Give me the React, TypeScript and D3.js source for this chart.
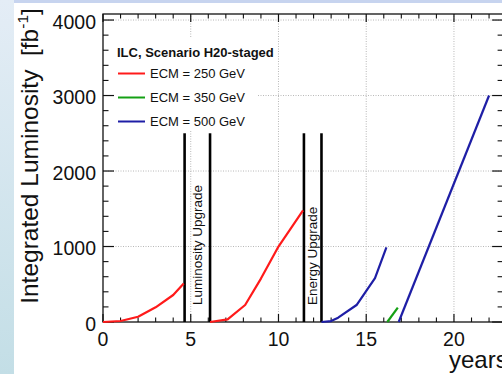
import React from 'react';
import * as d3 from 'd3';

// Integrated luminosity vs years, ILC H20-staged scenario
const red250a: [number, number][] = [[0, 0], [1, 13], [2, 70], [3, 195], [4, 358], [4.6, 510]];
const red250b: [number, number][] = [[6.1, 0], [7.1, 35], [8.1, 225], [9, 575], [10, 1000], [11.4, 1480]];
const blue500a: [number, number][] = [[12.45, 0], [13, 12], [13.4, 57], [14.45, 225], [15.5, 580], [16.15, 990]];
const green350: [number, number][] = [[16.2, 0], [16.8, 190]];
const blue500b: [number, number][] = [[16.85, 0], [22, 3000]];

const upgrades = [
  { label: 'Luminosity Upgrade', from: 4.65, to: 6.1 },
  { label: 'Energy Upgrade', from: 11.45, to: 12.45 },
];
const upgradeHeight = 2500;

const legendItems = [
  { label: 'ECM = 250 GeV', color: '#ff1a1a' },
  { label: 'ECM = 350 GeV', color: '#14a014' },
  { label: 'ECM = 500 GeV', color: '#1e1ea6' },
];

const xMajor = [0, 5, 10, 15, 20];
const yMajor = [0, 1000, 2000, 3000, 4000];

const W = 502;
const H = 374;
const FONT = '"Liberation Sans", Arial, Helvetica, sans-serif';

export default function App() {
  const x = d3.scaleLinear().domain([0, 22.8]).range([103, 503.1]);
  const y = d3.scaleLinear().domain([0, 4080]).range([322, 14]);
  const line = d3
    .line<[number, number]>()
    .x((d) => x(d[0]))
    .y((d) => y(d[1]));

  const xMinor = d3.range(0, 23, 1).filter((v) => v % 5 !== 0);
  const yMinor = d3.range(0, 4080, 200).filter((v) => v % 1000 !== 0);
  const [x0, x1] = x.range();
  const [y0, y1] = y.range();

  const series = [
    { d: red250a, c: legendItems[0].color },
    { d: red250b, c: legendItems[0].color },
    { d: blue500a, c: legendItems[2].color },
    { d: green350, c: legendItems[1].color },
    { d: blue500b, c: legendItems[2].color },
  ];

  return (
    <svg
      width={W}
      height={H}
      style={{ position: 'absolute', left: 0, top: 0, background: '#fff' }}
      fontFamily={FONT}
    >
      <defs>
        <linearGradient id="strip" x1="0" y1="0" x2="0" y2="1">
          <stop offset="0" stopColor="#e4edf6" />
          <stop offset="1" stopColor="#c3dee6" />
        </linearGradient>
      </defs>
      <rect x={0} y={0} width={14} height={H} fill="url(#strip)" />
      <rect x={14} y={0} width={W - 14} height={3} fill="#c7d4ef" />

      {/* grid */}
      {xMajor.filter((v) => v > 0).map((v) => (
        <line key={'gx' + v} x1={x(v)} x2={x(v)} y1={y0} y2={y1} stroke="#b8b8b8" strokeWidth={1} strokeDasharray="1 1.5" />
      ))}
      {yMajor.filter((v) => v > 0).map((v) => (
        <line key={'gy' + v} x1={x0} x2={x1} y1={y(v)} y2={y(v)} stroke="#b8b8b8" strokeWidth={1} strokeDasharray="1 1.5" />
      ))}

      {/* legend box (hides grid) */}
      <rect x={104} y={37} width={154} height={93} fill="#fff" />
      <text x={117} y={56.5} fontSize={13} fontWeight="bold" fill="#111">ILC, Scenario H20-staged</text>
      {legendItems.map((it, i) => {
        const ly = 73.5 + i * 24;
        return (
          <g key={it.label}>
            <line x1={118} x2={145} y1={ly} y2={ly} stroke={it.color} strokeWidth={2} />
            <text x={150} y={ly + 4.7} fontSize={13} fill="#111">{it.label}</text>
          </g>
        );
      })}

      {/* frame and ticks */}
      <rect x={x0} y={y1} width={x1 - x0} height={y0 - y1} fill="none" stroke="#111" strokeWidth={1.3} />
      {xMajor.map((v) => (
        <g key={'xt' + v} stroke="#111" strokeWidth={1.2}>
          <line x1={x(v)} x2={x(v)} y1={y0} y2={y0 - 8} />
          <line x1={x(v)} x2={x(v)} y1={y1} y2={y1 + 8} />
        </g>
      ))}
      {xMinor.map((v) => (
        <g key={'xm' + v} stroke="#111" strokeWidth={1.1}>
          <line x1={x(v)} x2={x(v)} y1={y0} y2={y0 - 4.5} />
          <line x1={x(v)} x2={x(v)} y1={y1} y2={y1 + 4.5} />
        </g>
      ))}
      {yMajor.map((v) => (
        <g key={'yt' + v} stroke="#111" strokeWidth={1.2}>
          <line x1={x0} x2={x0 + 11} y1={y(v)} y2={y(v)} />
          <line x1={x1} x2={x1 - 11} y1={y(v)} y2={y(v)} />
        </g>
      ))}
      {yMinor.map((v) => (
        <g key={'ym' + v} stroke="#111" strokeWidth={1.1}>
          <line x1={x0} x2={x0 + 5.5} y1={y(v)} y2={y(v)} />
          <line x1={x1} x2={x1 - 5.5} y1={y(v)} y2={y(v)} />
        </g>
      ))}

      {/* upgrade periods */}
      {upgrades.map((u) => {
        const cx = (x(u.from) + x(u.to)) / 2;
        return (
          <g key={u.label}>
            <line x1={x(u.from)} x2={x(u.from)} y1={y(0)} y2={y(upgradeHeight)} stroke="#000" strokeWidth={2.6} />
            <line x1={x(u.to)} x2={x(u.to)} y1={y(0)} y2={y(upgradeHeight)} stroke="#000" strokeWidth={2.6} />
            <text
              transform={`translate(${cx + 4.5},${y(0) - 17}) rotate(-90)`}
              fontSize={13.5}
              fill="#111"
            >
              {u.label}
            </text>
          </g>
        );
      })}

      {/* curves */}
      {series.map((s, i) => (
        <path key={i} d={line(s.d) || ''} fill="none" stroke={s.c} strokeWidth={2.2} strokeLinejoin="round" />
      ))}

      {/* tick labels */}
      {yMajor.map((v) => (
        <text key={'yl' + v} x={96} y={y(v) + 8.5} textAnchor="end" fontSize={19.5} fill="#111">{v}</text>
      ))}
      {xMajor.map((v) => (
        <text key={'xl' + v} x={x(v)} y={345.5} textAnchor="middle" fontSize={19.5} fill="#111">{v}</text>
      ))}

      <text x={449} y={368} fontSize={24} fill="#111">years</text>
      <text
        transform={`translate(37.5,156) rotate(-90)`}
        textAnchor="middle"
        fontSize={24.5}
        fill="#111"
        xmlSpace="preserve"
      >
        {'Integrated Luminosity  [fb'}
        <tspan fontSize={15.5} dy={-9.5}>-1</tspan>
        <tspan dy={9.5}>]</tspan>
      </text>
    </svg>
  );
}
